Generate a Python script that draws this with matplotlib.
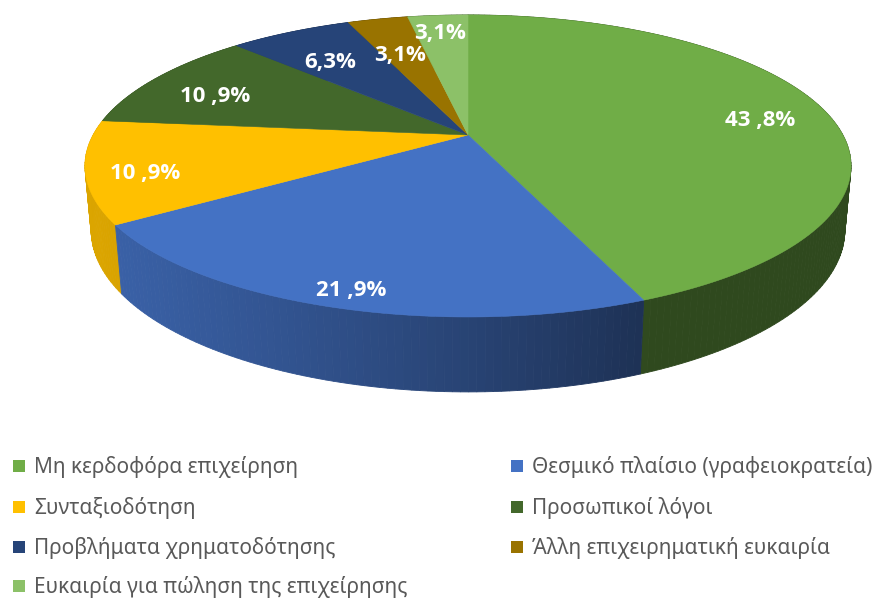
import numpy as np
import matplotlib.pyplot as plt
from matplotlib.patches import Polygon, Rectangle
from matplotlib.colors import to_rgb

# reasons for closing the business (share of answers, %)
categories = ['Μη κερδοφόρα επιχείρηση', 'Θεσμικό πλαίσιο (γραφειοκρατεία)',
              'Συνταξιοδότηση', 'Προσωπικοί λόγοι', 'Προβλήματα χρηματοδότησης',
              'Άλλη επιχειρηματική ευκαιρία', 'Ευκαιρία για πώληση της επιχείρησης']
shares = [43.8, 21.9, 10.9, 10.9, 6.3, 3.1, 3.1]
share_labels = ['43 ,8%', '21 ,9%', '10 ,9%', '10 ,9%', '6,3%', '3,1%', '3,1%']
colors = ['#70ad47', '#4472c4', '#ffc000', '#43682b', '#264478', '#997300', '#8cc168']

# how far out each label sits (fraction of radius)
label_r = [0.82, 0.88, 0.85, 0.8, 0.75, 0.72, 0.9]

# 3d view
alpha = np.radians(22.7)
f, D, h = 1687, 4.50, 0.184
cx, cy = 468, 135


def proj(theta, r=1.0, up=0.0):
    x = r * np.sin(theta)
    d = r * np.cos(theta)
    z = D + d * np.cos(alpha) - up * np.sin(alpha)
    yc = d * np.sin(alpha) + up * np.cos(alpha)
    return cx + f * x / z, cy - f * yc / z


def shade(col, theta):
    k = 0.45 + 0.41 * np.cos(theta - np.radians(250))
    k = min(max(k, 0.42), 1.0)
    return tuple(c * k for c in to_rgb(col))


fig = plt.figure(figsize=(8.82, 5.99), dpi=100)
ax = fig.add_axes([0, 0, 1, 1])
ax.set_xlim(0, 882)
ax.set_ylim(599, 0)
ax.axis('off')

bounds = np.radians(np.concatenate([[0], np.cumsum(shares)]) * 3.6)

# side walls, far strips first
strips = []
for i in range(len(shares)):
    n = max(int(np.degrees(bounds[i + 1] - bounds[i])), 2)
    t = np.linspace(bounds[i], bounds[i + 1], n + 1)
    for a, b in zip(t[:-1], t[1:]):
        strips.append((np.cos((a + b) / 2), a, b, i))
strips.sort(key=lambda s: -s[0])
for _, a, b, i in strips:
    pts = [proj(a), proj(b), proj(b, up=-h), proj(a, up=-h)]
    c = shade(colors[i], (a + b) / 2)
    ax.add_patch(Polygon(pts, closed=True, facecolor=c, edgecolor=c, lw=0.6))

# top faces
for i in range(len(shares)):
    t = np.linspace(bounds[i], bounds[i + 1], 200)
    pts = [proj(0, r=0)] + [proj(v) for v in t]
    ax.add_patch(Polygon(pts, closed=True, facecolor=colors[i],
                         edgecolor=colors[i], lw=0.4))

# labels
for i in range(len(shares)):
    mid = (bounds[i] + bounds[i + 1]) / 2
    x, y = proj(mid, r=label_r[i])
    ax.text(x, y + 8, share_labels[i], color='white', fontsize=16, fontweight='bold',
            family='Open Sans', ha='center', va='center')

# legend, two columns filled row by row
row_y = [467, 508, 548, 587]
col_x = [13, 511]
for i, name in enumerate(categories):
    x0 = col_x[i % 2]
    y0 = row_y[i // 2]
    ax.add_patch(Rectangle((x0, y0 - 7), 12, 12, facecolor=colors[i], edgecolor='none'))
    ax.text(x0 + 21, y0, name, color='#595959', fontsize=15, family='Noto Sans',
            ha='left', va='center')

fig.savefig('out.png', dpi=100)
